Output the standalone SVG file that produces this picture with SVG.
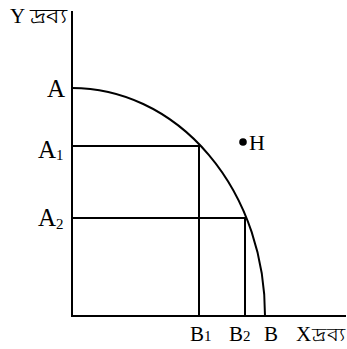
<svg xmlns="http://www.w3.org/2000/svg" width="347" height="349" viewBox="0 0 347 349">
<style>
.ln{stroke:#000;stroke-width:2;fill:none}
.t{font-family:"Liberation Serif","Times New Roman",serif;fill:#000}
.a{font-size:25px}
.b{font-size:21px}
.s{font-size:15px}
</style>
<rect width="347" height="349" fill="#fff"/>
<g id="connectors">
<path class="ln" d="M72,11 V316 H346"/>
<path class="ln" d="M72,88 A193,227 0 0 1 265,316"/>
<path class="ln" d="M72,146 H200 M199,146 V316"/>
<path class="ln" d="M72,218 H246 M245,218 V316"/>
</g>
<g id="yaxis-label"><text class="t" x="10" y="23" font-size="21">Y</text><text class="t" x="30" y="23" font-size="20" textLength="37" lengthAdjust="spacingAndGlyphs">দ্রব্য</text></g>
<g id="A"><text class="t a" x="47" y="97">A</text></g>
<g id="A1"><text class="t a" x="38" y="158">A<tspan class="s" dy="2">1</tspan></text></g>
<g id="A2"><text class="t a" x="38" y="226">A<tspan class="s" dy="3">2</tspan></text></g>
<g id="H"><circle cx="243" cy="142" r="3.8" fill="#000"/><text class="t" x="249" y="150" font-size="22">H</text></g>
<g id="B1"><text class="t b" x="190" y="341">B<tspan class="s">1</tspan></text></g>
<g id="B2"><text class="t b" x="229" y="341">B<tspan class="s">2</tspan></text></g>
<g id="B"><text class="t b" x="264" y="341">B</text></g>
<g id="xaxis-label"><text class="t b" x="296" y="341">X</text><text class="t" x="312" y="341" font-size="19" textLength="34" lengthAdjust="spacingAndGlyphs">দ্রব্য</text></g>
</svg>
